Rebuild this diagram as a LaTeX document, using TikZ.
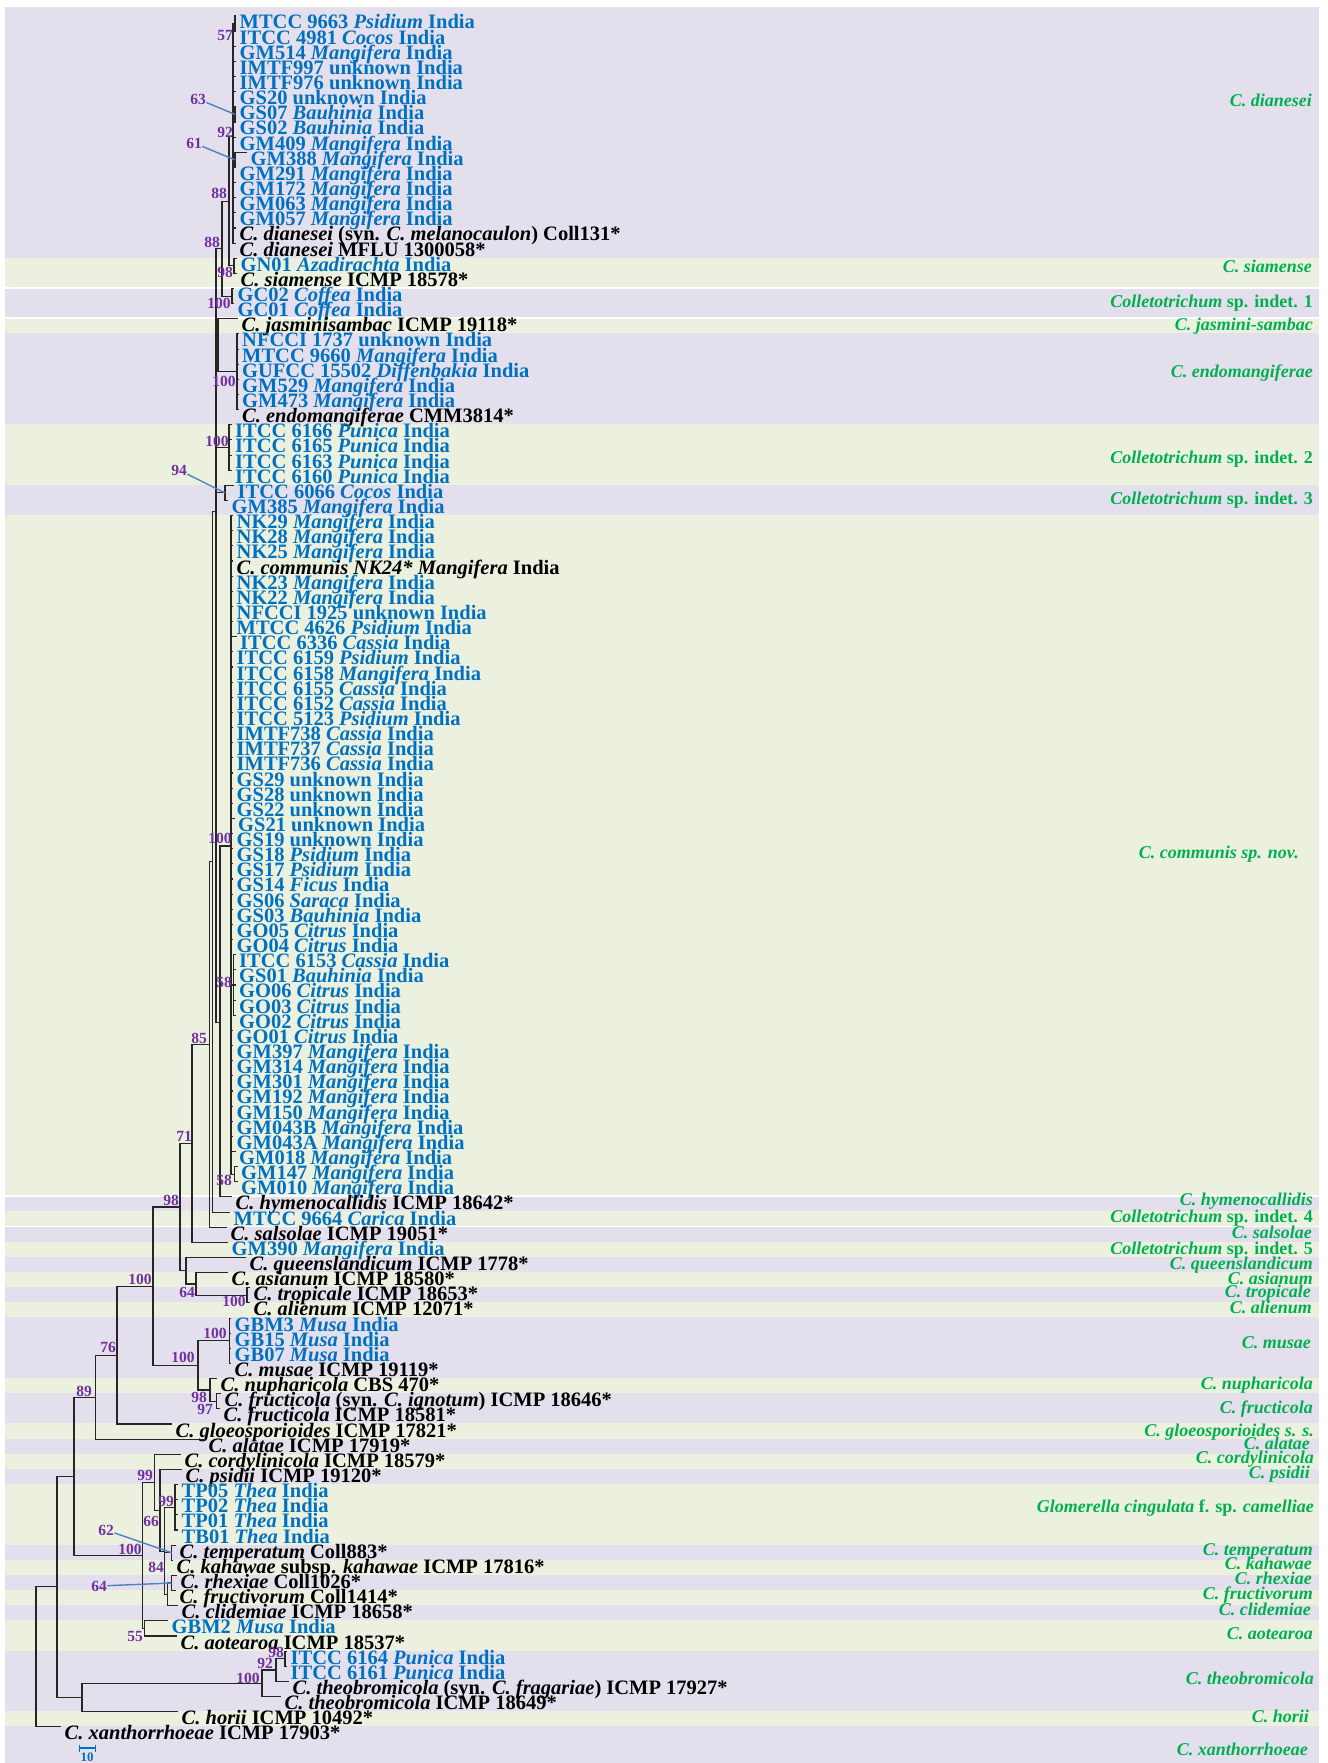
\documentclass[tikz,border=0pt]{standalone}
\usepackage{fontspec}
\setmainfont{Liberation Serif}
\definecolor{bgp}{HTML}{E4DFEC}
\definecolor{bgg}{HTML}{EBF1DE}
\definecolor{myblue}{HTML}{0070C0}
\definecolor{mypurple}{HTML}{7030A0}
\definecolor{mygreen}{HTML}{00B050}
\definecolor{leadc}{HTML}{4F81BD}
\newcommand\lf{\fontsize{20.5}{21}\selectfont\bfseries}
\newcommand\supf{\fontsize{15.5}{16}\selectfont\bfseries}
\newcommand\clf{\fontsize{18}{19}\selectfont\bfseries}
\newcommand\bl[1]{\textcolor{myblue}{#1}}
\newcommand\bi[2]{\bl{#1 \textit{#2} India}}
\newcommand\tleaf[4]{%
  \coordinate (#1) at (#3,{16+(#2-1)*15.14});
  \node[lab] (#1t) at ({#3+3.5},{29+(#2-1)*15.14}) {#4};}
\newcommand\kids[2]{\foreach \kk in {#2}{\draw[br] (#1) |- (\kk);}}
\newcommand\kidsr[3]{\foreach \kk in {#2,...,#3}{\draw[br] (#1) |- (l\kk);}}
\newcommand\bgband[3]{\fill[#1] (5,{30.5+(#2-2)*15.14}) rectangle (1319,{30.5+(#3-1)*15.14});}
\newcommand\wline[1]{\draw[white,line width=1.6pt] (5,{30.5+(#1-1)*15.14}) -- (1319,{30.5+(#1-1)*15.14});}
\newcommand\clab[4]{\node[clabel] (#1) at (#2,{#3+6}) {#4};}
\begin{document}
\begin{tikzpicture}[x=1pt,y=-1pt,
  lab/.style={anchor=base west,inner sep=0pt,font=\lf},
  br/.style={line width=1.1pt,black!85},
  sup/.style={font=\supf,text=mypurple,inner sep=0.5pt},
  clabel/.style={anchor=base east,inner sep=0pt,font=\clf,text=mygreen},
  leader/.style={leadc,line width=1.4pt}]
\useasboundingbox (0,0) rectangle (1327,1763);
% background bands
\fill[bgp] (5,7) rectangle (1319,{30.5+15*15.14});
\bgband{bgg}{17}{18}
\bgband{bgp}{19}{20}
\bgband{bgg}{21}{21}
\bgband{bgp}{22}{27}
\bgband{bgg}{28}{31}
\bgband{bgp}{32}{33}
\bgband{bgg}{34}{78}
\bgband{bgp}{79}{79}
\bgband{bgg}{80}{80}
\bgband{bgp}{81}{81}
\bgband{bgg}{82}{82}
\bgband{bgp}{83}{83}
\bgband{bgg}{84}{84}
\bgband{bgp}{85}{85}
\bgband{bgg}{86}{86}
\bgband{bgp}{87}{90}
\bgband{bgg}{91}{91}
\bgband{bgp}{92}{93}
\bgband{bgg}{94}{94}
\bgband{bgp}{95}{95}
\bgband{bgg}{96}{96}
\bgband{bgp}{97}{97}
\bgband{bgg}{98}{101}
\bgband{bgp}{102}{102}
\bgband{bgg}{103}{103}
\bgband{bgp}{104}{104}
\bgband{bgg}{105}{105}
\bgband{bgp}{106}{106}
\bgband{bgg}{107}{108}
\bgband{bgp}{109}{112}
\bgband{bgg}{113}{113}
\fill[bgp] (5,{30.5+112*15.14}) rectangle (1319,1763);
\wline{18}\wline{20}\wline{78}\wline{80}

% leaves
\tleaf{l1}{1}{236}{\bi{MTCC 9663}{Psidium}}
\tleaf{l2}{2}{236}{\bi{ITCC 4981}{Cocos}}
\tleaf{l3}{3}{236}{\bi{GM514}{Mangifera}}
\tleaf{l4}{4}{236}{\bl{IMTF997 unknown India}}
\tleaf{l5}{5}{236}{\bl{IMTF976 unknown India}}
\tleaf{l6}{6}{236}{\bl{GS20 unknown India}}
\tleaf{l7}{7}{236}{\bi{GS07}{Bauhinia}}
\tleaf{l8}{8}{236}{\bi{GS02}{Bauhinia}}
\tleaf{l9}{9}{236}{\bi{GM409}{Mangifera}}
\tleaf{l10}{10}{247}{\bi{GM388}{Mangifera}}
\tleaf{l11}{11}{236}{\bi{GM291}{Mangifera}}
\tleaf{l12}{12}{236}{\bi{GM172}{Mangifera}}
\tleaf{l13}{13}{236}{\bi{GM063}{Mangifera}}
\tleaf{l14}{14}{236}{\bi{GM057}{Mangifera}}
\tleaf{l15}{15}{236}{\textit{C. dianesei} (syn. \textit{C. melanocaulon}) Coll131*}
\tleaf{l16}{16}{236}{\textit{C. dianesei} MFLU 1300058*}
\tleaf{l17}{17}{237}{\bi{GN01}{Azadirachta}}
\tleaf{l18}{18}{237}{\textit{C. siamense} ICMP 18578*}
\tleaf{l19}{19}{234}{\bi{GC02}{Coffea}}
\tleaf{l20}{20}{234}{\bi{GC01}{Coffea}}
\tleaf{l21}{21}{238}{\textit{C. jasminisambac} ICMP 19118*}
\tleaf{l22}{22}{238.5}{\bl{NFCCI 1737 unknown India}}
\tleaf{l23}{23}{238.5}{\bi{MTCC 9660}{Mangifera}}
\tleaf{l24}{24}{238.5}{\bi{GUFCC 15502}{Diffenbakia}}
\tleaf{l25}{25}{238.5}{\bi{GM529}{Mangifera}}
\tleaf{l26}{26}{238.5}{\bi{GM473}{Mangifera}}
\tleaf{l27}{27}{238.5}{\textit{C. endomangiferae} CMM3814*}
\tleaf{l28}{28}{231.5}{\bi{ITCC 6166}{Punica}}
\tleaf{l29}{29}{231.5}{\bi{ITCC 6165}{Punica}}
\tleaf{l30}{30}{231.5}{\bi{ITCC 6163}{Punica}}
\tleaf{l31}{31}{231.5}{\bi{ITCC 6160}{Punica}}
\tleaf{l32}{32}{234}{\bi{ITCC 6066}{Cocos}}
\tleaf{l33}{33}{228}{\bi{GM385}{Mangifera}}
\tleaf{l34}{34}{233}{\bi{NK29}{Mangifera}}
\tleaf{l35}{35}{233}{\bi{NK28}{Mangifera}}
\tleaf{l36}{36}{233}{\bi{NK25}{Mangifera}}
\tleaf{l37}{37}{233}{\textit{C. communis NK24* Mangifera} India}
\tleaf{l38}{38}{233}{\bi{NK23}{Mangifera}}
\tleaf{l39}{39}{233}{\bi{NK22}{Mangifera}}
\tleaf{l40}{40}{233}{\bl{NFCCI 1925 unknown India}}
\tleaf{l41}{41}{233}{\bi{MTCC 4626}{Psidium}}
\tleaf{l42}{42}{236.5}{\bi{ITCC 6336}{Cassia}}
\tleaf{l43}{43}{233}{\bi{ITCC 6159}{Psidium}}
\tleaf{l44}{44}{233}{\bi{ITCC 6158}{Mangifera}}
\tleaf{l45}{45}{233}{\bi{ITCC 6155}{Cassia}}
\tleaf{l46}{46}{233}{\bi{ITCC 6152}{Cassia}}
\tleaf{l47}{47}{233}{\bi{ITCC 5123}{Psidium}}
\tleaf{l48}{48}{233}{\bi{IMTF738}{Cassia}}
\tleaf{l49}{49}{233}{\bi{IMTF737}{Cassia}}
\tleaf{l50}{50}{233}{\bi{IMTF736}{Cassia}}
\tleaf{l51}{51}{233}{\bl{GS29 unknown India}}
\tleaf{l52}{52}{233}{\bl{GS28 unknown India}}
\tleaf{l53}{53}{233}{\bl{GS22 unknown India}}
\tleaf{l54}{54}{234.5}{\bl{GS21 unknown India}}
\tleaf{l55}{55}{233}{\bl{GS19 unknown India}}
\tleaf{l56}{56}{233}{\bi{GS18}{Psidium}}
\tleaf{l57}{57}{233}{\bi{GS17}{Psidium}}
\tleaf{l58}{58}{233}{\bi{GS14}{Ficus}}
\tleaf{l59}{59}{233}{\bi{GS06}{Saraca}}
\tleaf{l60}{60}{233}{\bi{GS03}{Bauhinia}}
\tleaf{l61}{61}{233}{\bi{GO05}{Citrus}}
\tleaf{l62}{62}{233}{\bi{GO04}{Citrus}}
\tleaf{l63}{63}{235.5}{\bi{ITCC 6153}{Cassia}}
\tleaf{l64}{64}{235.5}{\bi{GS01}{Bauhinia}}
\tleaf{l65}{65}{235.5}{\bi{GO06}{Citrus}}
\tleaf{l66}{66}{235.5}{\bi{GO03}{Citrus}}
\tleaf{l67}{67}{235.5}{\bi{GO02}{Citrus}}
\tleaf{l68}{68}{233}{\bi{GO01}{Citrus}}
\tleaf{l69}{69}{233}{\bi{GM397}{Mangifera}}
\tleaf{l70}{70}{233}{\bi{GM314}{Mangifera}}
\tleaf{l71}{71}{233}{\bi{GM301}{Mangifera}}
\tleaf{l72}{72}{233}{\bi{GM192}{Mangifera}}
\tleaf{l73}{73}{233}{\bi{GM150}{Mangifera}}
\tleaf{l74}{74}{233}{\bi{GM043B}{Mangifera}}
\tleaf{l75}{75}{233}{\bi{GM043A}{Mangifera}}
\tleaf{l76}{76}{235.5}{\bi{GM018}{Mangifera}}
\tleaf{l77}{77}{237.5}{\bi{GM147}{Mangifera}}
\tleaf{l78}{78}{237.5}{\bi{GM010}{Mangifera}}
\tleaf{l79}{79}{232}{\textit{C. hymenocallidis} ICMP 18642*}
\tleaf{l80}{80}{230}{\bi{MTCC 9664}{Carica}}
\tleaf{l81}{81}{227}{\textit{C. salsolae} ICMP 19051*}
\tleaf{l82}{82}{228}{\bi{GM390}{Mangifera}}
\tleaf{l83}{83}{246}{\textit{C. queenslandicum} ICMP 1778*}
\tleaf{l84}{84}{228}{\textit{C. asianum} ICMP 18580*}
\tleaf{l85}{85}{250}{\textit{C. tropicale} ICMP 18653*}
\tleaf{l86}{86}{250}{\textit{C. alienum} ICMP 12071*}
\tleaf{l87}{87}{231}{\bi{GBM3}{Musa}}
\tleaf{l88}{88}{231}{\bi{GB15}{Musa}}
\tleaf{l89}{89}{231}{\bi{GB07}{Musa}}
\tleaf{l90}{90}{231}{\textit{C. musae} ICMP 19119*}
\tleaf{l91}{91}{217}{\textit{C. nupharicola} CBS 470*}
\tleaf{l92}{92}{221}{\textit{C. fructicola} (syn. \textit{C. ignotum}) ICMP 18646*}
\tleaf{l93}{93}{220}{\textit{C. fructicola} ICMP 18581*}
\tleaf{l94}{94}{172}{\textit{C. gloeosporioides} ICMP 17821*}
\tleaf{l95}{95}{205}{\textit{C. alatae} ICMP 17919*}
\tleaf{l96}{96}{181}{\textit{C. cordylinicola} ICMP 18579*}
\tleaf{l97}{97}{182}{\textit{C. psidii} ICMP 19120*}
\tleaf{l98}{98}{178}{\bi{TP05}{Thea}}
\tleaf{l99}{99}{178}{\bi{TP02}{Thea}}
\tleaf{l100}{100}{178}{\bi{TP01}{Thea}}
\tleaf{l101}{101}{178}{\bi{TB01}{Thea}}
\tleaf{l102}{102}{176}{\textit{C. temperatum} Coll883*}
\tleaf{l103}{103}{173}{\textit{C. kahawae} subsp. \textit{kahawae} ICMP 17816*}
\tleaf{l104}{104}{177}{\textit{C. rhexiae} Coll1026*}
\tleaf{l105}{105}{176}{\textit{C. fructivorum} Coll1414*}
\tleaf{l106}{106}{178}{\textit{C. clidemiae} ICMP 18658*}
\tleaf{l107}{107}{168}{\bi{GBM2}{Musa}}
\tleaf{l108}{108}{177}{\textit{C. aotearoa} ICMP 18537*}
\tleaf{l109}{109}{287}{\bi{ITCC 6164}{Punica}}
\tleaf{l110}{110}{287}{\bi{ITCC 6161}{Punica}}
\tleaf{l111}{111}{289}{\textit{C. theobromicola} (syn. \textit{C. fragariae}) ICMP 17927*}
\tleaf{l112}{112}{281}{\textit{C. theobromicola} ICMP 18649*}
\tleaf{l113}{113}{178}{\textit{C. horii} ICMP 10492*}
\tleaf{l114}{114}{61}{\textit{C. xanthorrhoeae} ICMP 17903*}

% internal nodes
\coordinate (c57) at (235,23.6);
\coordinate (c63) at (235,114.4);
\coordinate (c61) at (235,159.9);
\coordinate (D) at (233,136.5);
\coordinate (S98) at (234,265.8);
\coordinate (N88a) at (229,201.2);
\coordinate (C100c) at (232,296.1);
\coordinate (N88b) at (222,248.6);
\coordinate (E100) at (237,371.8);
\coordinate (J) at (218,345.3);
\coordinate (P100) at (229,447.5);
\coordinate (T94) at (225,492.9);
\coordinate (s58a) at (233.5,985);
\coordinate (s58b) at (234.5,1174.2);
\coordinate (C100) at (231,846);
\coordinate (H) at (220,1022.8);
\coordinate (B2) at (216,511.4);
\coordinate (M) at (212.5,861.7);
\coordinate (N85) at (209.5,1044.5);
\coordinate (N71) at (192,1143.4);
\coordinate (TA) at (247,1295.4);
\coordinate (N64) at (196,1284);
\coordinate (Q) at (186,1270.7);
\coordinate (N98) at (180,1207);
\coordinate (Mus100) at (229.5,1340.8);
\coordinate (FR) at (216.5,1401.3);
\coordinate (NF) at (210,1390);
\coordinate (MU) at (198,1365.4);
\coordinate (N100a) at (153,1286.2);
\coordinate (N76) at (117,1355.1);
\coordinate (N89) at (95.5,1397.1);
\coordinate (Thea99) at (175,1507.3);
\coordinate (TK) at (171.7,1552.7);
\coordinate (RF) at (171.7,1583);
\coordinate (N84) at (167.5,1594.4);
\coordinate (ThX) at (164.5,1551.5);
\coordinate (N66) at (160,1510.4);
\coordinate (C99a) at (154.7,1482.4);
\coordinate (AO) at (144.5,1628.4);
\coordinate (G100) at (142.6,1555.4);
\coordinate (N74) at (74,1476.2);
\coordinate (TH98) at (285,1658.7);
\coordinate (TH92) at (276,1670);
\coordinate (TH100) at (262,1683.3);
\coordinate (HO) at (82,1697.5);
\coordinate (N58) at (57,1586.8);
\coordinate (R) at (36,1656.8);

% branches
\kids{c57}{l1,l2}
\kids{c63}{l7,l8}
\kids{c61}{l10,l11}
\kids{D}{c57,l3,l4,l5,l6,c63,l9,c61,l12,l13,l14,l15,l16}
\kids{S98}{l17,l18}
\kids{N88a}{D,S98}
\kids{C100c}{l19,l20}
\kids{N88b}{N88a,C100c}
\kidsr{E100}{22}{27}
\kids{J}{l21,E100}
\kidsr{P100}{28}{31}
\kids{T94}{l32,l33}
\kidsr{s58a}{63}{67}
\kids{s58b}{l77,l78}
\kidsr{C100}{34}{62}
\kidsr{C100}{68}{76}
\kids{C100}{s58a,s58b}
\kids{H}{C100,l79}
\kids{B2}{N88b,J,P100,T94,H}
\kids{M}{B2,l80}
\kids{N85}{M,l81}
\kids{N71}{N85,l82}
\kids{TA}{l85,l86}
\kids{N64}{l84,TA}
\kids{Q}{l83,N64}
\kids{N98}{N71,Q}
\kidsr{Mus100}{87}{90}
\kids{FR}{l92,l93}
\kids{NF}{l91,FR}
\kids{MU}{Mus100,NF}
\kids{N100a}{N98,MU}
\kids{N76}{N100a,l94}
\kids{N89}{N76,l95}
\kidsr{Thea99}{98}{101}
\kids{TK}{l102,l103}
\kids{RF}{l104,l105}
\kids{N84}{RF,l106}
\kids{ThX}{Thea99,TK,N84}
\kids{N66}{l97,ThX}
\kids{C99a}{l96,N66}
\kids{AO}{l107,l108}
\kids{G100}{C99a,AO}
\kids{N74}{N89,G100}
\kids{TH98}{l109,l110}
\kids{TH92}{TH98,l111}
\kids{TH100}{TH92,l112}
\kids{HO}{TH100,l113}
\kids{N58}{N74,HO}
\kids{R}{N58,l114}

% support values
\node[sup] (s57) at (225,36) {57};
\node[sup] (s63) at (198,99) {63};
\node[sup] (s92) at (225,132) {92};
\node[sup] (s61) at (194,143) {61};
\node[sup] (s88a) at (219,193) {88};
\node[sup] (s88b) at (212,242) {88};
\node[sup] (s98a) at (225,272) {98};
\node[sup] (s100a) at (219,303) {100};
\node[sup] (s100b) at (224,381) {100};
\node[sup] (s100c) at (217,441) {100};
\node[sup] (s94) at (179,470) {94};
\node[sup] (s100d) at (220,838) {100};
\node[sup] (s58x) at (224,982) {58};
\node[sup] (s85) at (199,1038) {85};
\node[sup] (s58y) at (224,1180) {58};
\node[sup] (s71) at (184,1136) {71};
\node[sup] (s98b) at (171,1200) {98};
\node[sup] (s64a) at (187,1292) {64};
\node[sup] (s100e) at (234,1301) {100};
\node[sup] (s100f) at (140,1279) {100};
\node[sup] (s100g) at (215,1333) {100};
\node[sup] (s100h) at (183,1357) {100};
\node[sup] (s98c) at (199,1397) {98};
\node[sup] (s97) at (205,1409) {97};
\node[sup] (s76) at (108,1347) {76};
\node[sup] (s89) at (84,1391) {89};
\node[sup] (s99a) at (145,1475) {99};
\node[sup] (s99b) at (166,1501) {99};
\node[sup] (s66) at (151,1521) {66};
\node[sup] (s62) at (106,1530) {62};
\node[sup] (s100i) at (130,1549) {100};
\node[sup] (s84) at (156,1567) {84};
\node[sup] (s64b) at (99,1586) {64};
\node[sup] (s55) at (135,1636) {55};
\node[sup] (s98d) at (276,1652) {98};
\node[sup] (s92b) at (265,1663) {92};
\node[sup] (s100j) at (248,1678) {100};

% leader lines
\draw[leader] (s63) -- (c63);
\draw[leader] (s61) -- (c61);
\draw[leader] (s94) -- (T94);
\draw[leader] (s62) -- (TK);
\draw[leader] (s64b) -- (RF);

% clade labels
\clab{g1}{1312}{101}{\textit{C. dianesei}}
\clab{g2}{1312}{266.5}{\textit{C. siamense}}
\clab{g3}{1313}{301}{\textit{Colletotrichum} sp. indet. 1}
\clab{g4}{1313}{324.5}{\textit{C. jasmini-sambac}}
\clab{g5}{1313}{371}{\textit{C. endomangiferae}}
\clab{g6}{1313}{457}{\textit{Colletotrichum} sp. indet. 2}
\clab{g7}{1313}{498}{\textit{Colletotrichum} sp. indet. 3}
\clab{g8}{1299}{852.5}{\textit{C. communis sp. nov.}}
\clab{g9}{1313}{1199}{\textit{C. hymenocallidis}}
\clab{g10}{1313}{1216}{\textit{Colletotrichum} sp. indet. 4}
\clab{g11}{1312}{1232}{\textit{C. salsolae}}
\clab{g12}{1313}{1248}{\textit{Colletotrichum} sp. indet. 5}
\clab{g13}{1313}{1263}{\textit{C. queenslandicum}}
\clab{g14}{1313}{1278.5}{\textit{C. asianum}}
\clab{g15}{1311}{1291}{\textit{C. tropicale}}
\clab{g16}{1312}{1307}{\textit{C. alienum}}
\clab{g17}{1311}{1342.5}{\textit{C. musae}}
\clab{g18}{1313}{1383}{\textit{C. nupharicola}}
\clab{g19}{1313}{1407.5}{\textit{C. fructicola}}
\clab{g20}{1314}{1430}{\textit{C. gloeosporioides s. s.}}
\clab{g21}{1310}{1443}{\textit{C. alatae}}
\clab{g22}{1314}{1457}{\textit{C. cordylinicola}}
\clab{g23}{1310}{1472.6}{\textit{C. psidii}}
\clab{g24}{1314}{1506}{\textit{Glomerella cingulata} f. sp. \textit{camelliae}}
\clab{g25}{1313}{1549}{\textit{C. temperatum}}
\clab{g26}{1312}{1563.6}{\textit{C. kahawae}}
\clab{g27}{1312}{1578.5}{\textit{C. rhexiae}}
\clab{g28}{1313}{1593}{\textit{C. fructivorum}}
\clab{g29}{1311}{1609}{\textit{C. clidemiae}}
\clab{g30}{1313}{1633}{\textit{C. aotearoa}}
\clab{g31}{1314}{1678}{\textit{C. theobromicola}}
\clab{g32}{1309}{1716.5}{\textit{C. horii}}
\clab{g33}{1308}{1749}{\textit{C. xanthorrhoeae}}

% scale bar
\coordinate (sb1) at (79,1748);
\coordinate (sb2) at (95,1748);
\draw[myblue,line width=1.2pt] (sb1) -- (sb2);
\draw[myblue,line width=1pt] (79,1744.5) -- (79,1751.5) (95,1744.5) -- (95,1751.5);
\node[font=\fontsize{13}{13}\selectfont\bfseries,text=myblue,inner sep=0pt] (sbl) at (87,1757.5) {10};
\end{tikzpicture}
\end{document}
